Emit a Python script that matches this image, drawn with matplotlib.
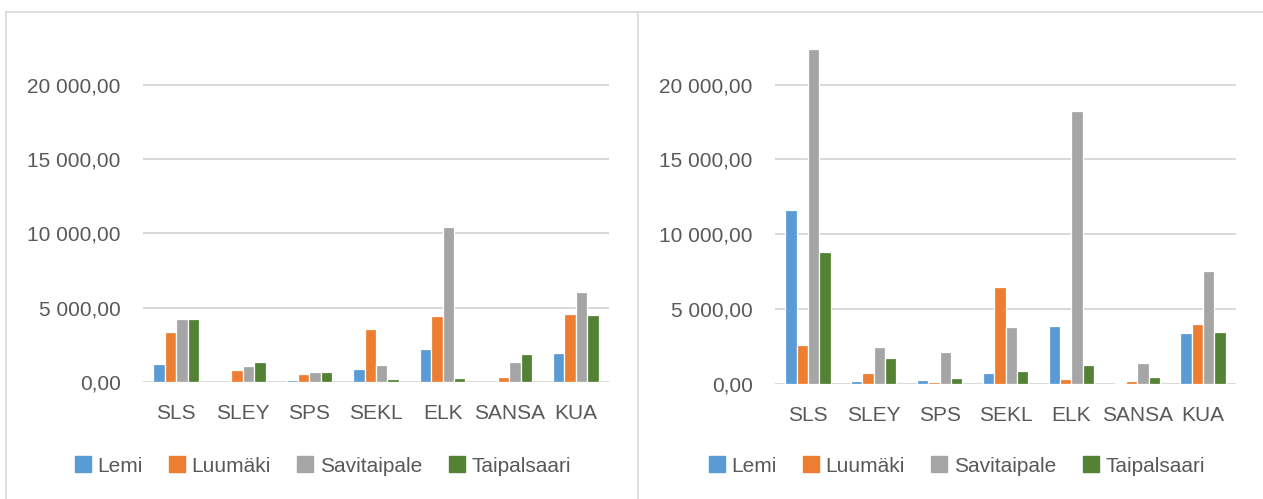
import matplotlib
matplotlib.use("Agg")
import matplotlib.pyplot as plt
import numpy as np
from matplotlib.lines import Line2D
from matplotlib.ticker import FuncFormatter

categories = ["SLS", "SLEY", "SPS", "SEKL", "ELK", "SANSA", "KUA"]
series_names = ["Lemi", "Luumäki", "Savitaipale", "Taipalsaari"]
colors = ["#5B9BD5", "#ED7D31", "#A5A5A5", "#548235"]

# Left chart
left_lemi = [1200, 0, 110, 900, 2220, 0, 1970]
left_luumaki = [3350, 810, 560, 3570, 4440, 310, 4550]
left_savitaipale = [4240, 1080, 670, 1140, 10430, 1350, 6030]
left_taipalsaari = [4240, 1320, 650, 180, 290, 1910, 4490]

# Right chart
right_lemi = [11620, 160, 270, 740, 3860, 70, 3370]
right_luumaki = [2570, 720, 110, 6450, 340, 180, 3990]
right_savitaipale = [22370, 2480, 2100, 3810, 18240, 1400, 7560]
right_taipalsaari = [8790, 1720, 380, 830, 1230, 470, 3460]

yticks = [0, 5000, 10000, 15000, 20000]

plt.rcParams['font.family'] = ['Liberation Sans', 'DejaVu Sans']
TXT = "#595959"
GRID = "#D9D9D9"
FS = 15

W, H = 1263, 499
fig = plt.figure(figsize=(W / 100, H / 100), dpi=100)


def fmt(v, pos):
    s = f"{v:,.2f}"
    return s.replace(",", " ").replace(".", ",")


def draw(ax, data):
    x = np.arange(len(categories))
    bw = 0.172
    for i, (vals, c) in enumerate(zip(data, colors)):
        ax.bar(x + (i - 1.5) * bw, vals, width=bw, color=c,
               edgecolor="white", linewidth=0.9, zorder=3)
    ax.set_xlim(-0.5, len(categories) - 0.5)
    ax.set_ylim(0, 25000)
    ax.set_yticks(yticks)
    ax.yaxis.set_major_formatter(FuncFormatter(fmt))
    ax.set_xticks(x)
    ax.set_xticklabels(categories)
    ax.grid(axis="y", color=GRID, linewidth=1.4, zorder=0)
    for s in ax.spines.values():
        s.set_visible(False)
    ax.tick_params(axis="both", length=0, labelsize=FS, colors=TXT)
    ax.tick_params(axis="y", pad=16)
    ax.tick_params(axis="x", pad=16)


def axpos(x0, x1, ybot, ytop):
    return [x0 / W, 1 - ybot / H, (x1 - x0) / W, (ybot - ytop) / H]


ax1 = fig.add_axes(axpos(143, 609, 382, 10.5))
draw(ax1, [left_lemi, left_luumaki, left_savitaipale, left_taipalsaari])
ax2 = fig.add_axes(axpos(775, 1236, 383.7, 10))
draw(ax2, [right_lemi, right_luumaki, right_savitaipale, right_taipalsaari])

# panel borders
for (xa, ya, xb, yb) in [(6, 12, 6, 499), (6, 12, 1263, 12), (638, 12, 638, 499)]:
    fig.add_artist(Line2D([xa / W, xb / W], [1 - ya / H, 1 - yb / H],
                          color=GRID, linewidth=1.2, transform=fig.transFigure))

handles = [Line2D([], [], marker="s", linestyle="none", markersize=11,
                  markerfacecolor=c, markeredgecolor=c) for c in colors]
for cx in (322, 956):
    fig.legend(handles, series_names, loc="center", bbox_to_anchor=(cx / W, 1 - 466 / H),
               ncol=4, frameon=False, fontsize=FS, labelcolor=TXT,
               handletextpad=0.25, columnspacing=1.2, handlelength=0.9,
               borderaxespad=0)

fig.savefig("out.png", dpi=100)
